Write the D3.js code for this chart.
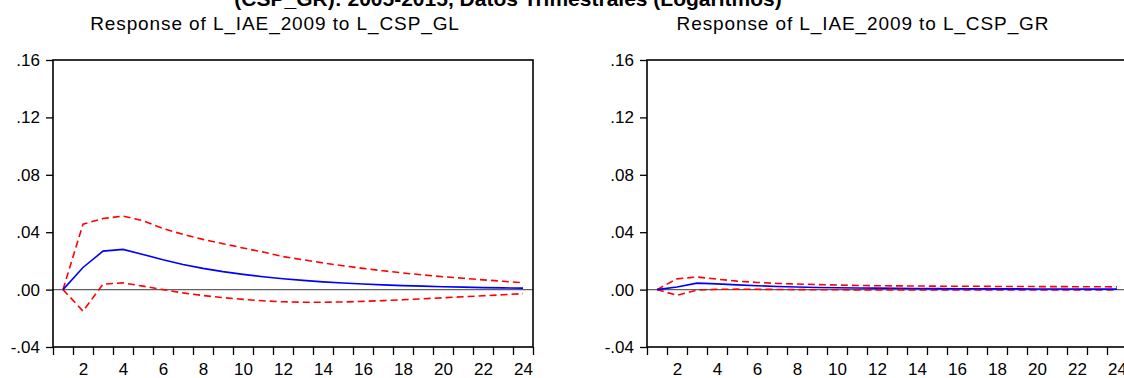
<!DOCTYPE html>
<html>
<head>
<meta charset="utf-8">
<script src="https://cdn.jsdelivr.net/npm/d3@7"></script>
<style>
  body { margin: 0; background: #fff; }
  svg { display: block; font-family: "Liberation Sans", Arial, sans-serif; }
</style>
</head>
<body>
<script>
// periods 1..24
var periods = d3.range(1, 25);

var yTicks = [-0.04, 0.00, 0.04, 0.08, 0.12, 0.16];
var yTickLabels = ["-.04", ".00", ".04", ".08", ".12", ".16"];
var xTickLabels = [2, 4, 6, 8, 10, 12, 14, 16, 18, 20, 22, 24];

// Response of L_IAE_2009 to L_CSP_GL
var glResp  = [0, 0.0154, 0.0268, 0.0280, 0.0245, 0.0208, 0.0175, 0.0148, 0.0125, 0.0106, 0.0090, 0.0076,
               0.0064, 0.0054, 0.0046, 0.0039, 0.0033, 0.0028, 0.0024, 0.0020, 0.0017, 0.0014, 0.0012, 0.0010];
var glUpper = [0, 0.0456, 0.0495, 0.0512, 0.0480, 0.0425, 0.0385, 0.0350, 0.0320, 0.0290, 0.0262, 0.0230,
               0.0208, 0.0186, 0.0166, 0.0148, 0.0131, 0.0116, 0.0102, 0.0090, 0.0079, 0.0068, 0.0058, 0.0048];
var glLower = [0, -0.0150, 0.0038, 0.0047, 0.0024, 0.0000, -0.0023, -0.0041, -0.0056, -0.0068, -0.0078, -0.0085,
               -0.0088, -0.0088, -0.0086, -0.0082, -0.0077, -0.0071, -0.0064, -0.0057, -0.0050, -0.0043, -0.0036, -0.0028];

// Response of L_IAE_2009 to L_CSP_GR
var grResp  = [0, 0.0018, 0.0045, 0.0040, 0.0033, 0.0027, 0.0022, 0.0018, 0.0015, 0.0013, 0.0011, 0.0010,
               0.0009, 0.0008, 0.0007, 0.0006, 0.0006, 0.0005, 0.0005, 0.0004, 0.0004, 0.0004, 0.0003, 0.0003];
var grUpper = [0, 0.0075, 0.0088, 0.0073, 0.0059, 0.0050, 0.0043, 0.0039, 0.0035, 0.0032, 0.0029, 0.0027,
               0.0026, 0.0025, 0.0024, 0.0023, 0.0023, 0.0022, 0.0022, 0.0021, 0.0021, 0.0020, 0.0020, 0.0019];
var grLower = [0, -0.0040, -0.0004, 0.0002, 0.0003, 0.0002, 0.0001, 0.0000, -0.0001, -0.0001, -0.0002, -0.0002,
               -0.0002, -0.0002, -0.0002, -0.0002, -0.0002, -0.0002, -0.0002, -0.0002, -0.0002, -0.0002, -0.0002, -0.0002];

var panels = [
  { title: "Response of L_IAE_2009 to L_CSP_GL", left: 53, titleShift: -18, resp: glResp, upper: glUpper, lower: glLower },
  { title: "Response of L_IAE_2009 to L_CSP_GR", left: 647, titleShift: -24, resp: grResp, upper: grUpper, lower: grLower }
];

var svg = d3.select("body").append("svg")
  .attr("width", 1124)
  .attr("height", 378);

// main title, mostly cut off at the top
svg.append("text")
  .attr("x", 508)
  .attr("y", 6)
  .attr("text-anchor", "middle")
  .style("font-size", "21px")
  .style("font-weight", "bold")
  .text("(CSP_GR): 2005-2015, Datos Trimestrales (Logaritmos)");

var plotW = 480, plotTop = 60, plotBottom = 347;

var y = d3.scaleLinear().domain([-0.04, 0.16]).range([plotBottom, plotTop]);

panels.forEach(function(p) {
  var x = d3.scaleLinear().domain([0.5, 24.5]).range([p.left, p.left + plotW]);
  var g = svg.append("g");

  g.append("text")
    .attr("x", p.left + plotW / 2 + p.titleShift)
    .attr("y", 30)
    .attr("text-anchor", "middle")
    .style("font-size", "19px")
    .style("letter-spacing", "0.9px")
    .text(p.title);

  // zero line
  g.append("line")
    .attr("x1", p.left).attr("x2", p.left + plotW)
    .attr("y1", y(0)).attr("y2", y(0))
    .attr("stroke", "#606060")
    .attr("stroke-width", 1.3);

  var line = d3.line()
    .x(function(d, i) { return x(periods[i]); })
    .y(function(d) { return y(d); });

  g.append("path").datum(p.upper)
    .attr("d", line).attr("fill", "none")
    .attr("stroke", "#ff0000").attr("stroke-width", 1.6)
    .attr("stroke-dasharray", "7,4");
  g.append("path").datum(p.lower)
    .attr("d", line).attr("fill", "none")
    .attr("stroke", "#ff0000").attr("stroke-width", 1.6)
    .attr("stroke-dasharray", "7,4");
  g.append("path").datum(p.resp)
    .attr("d", line).attr("fill", "none")
    .attr("stroke", "#0000ff").attr("stroke-width", 1.6);

  // frame
  g.append("rect")
    .attr("x", p.left).attr("y", plotTop)
    .attr("width", plotW).attr("height", plotBottom - plotTop)
    .attr("fill", "none")
    .attr("stroke", "#000")
    .attr("stroke-width", 1.6);

  // y axis
  var yAxis = d3.axisLeft(y)
    .tickValues(yTicks)
    .tickSize(7)
    .tickPadding(6)
    .tickFormat(function(d, i) { return yTickLabels[i]; });
  var ya = g.append("g").attr("transform", "translate(" + p.left + ",0)").call(yAxis);
  ya.select(".domain").remove();
  ya.selectAll("line").attr("stroke-width", 1.3);
  ya.selectAll("text").style("font-size", "17px").attr("fill", "#000");

  // x axis: ticks at period boundaries, labels at even periods
  var xb = d3.axisBottom(x).tickValues(d3.range(0.5, 25, 1)).tickSize(8).tickFormat("");
  var xa = g.append("g").attr("transform", "translate(0," + plotBottom + ")").call(xb);
  xa.select(".domain").remove();
  xa.selectAll("line").attr("stroke-width", 1.3);

  var xl = d3.axisBottom(x).tickValues(xTickLabels).tickSize(0).tickPadding(16);
  var xla = g.append("g").attr("transform", "translate(0," + plotBottom + ")").call(xl);
  xla.select(".domain").remove();
  xla.selectAll("text").style("font-size", "17px").attr("fill", "#000");
});
</script>
</body>
</html>
